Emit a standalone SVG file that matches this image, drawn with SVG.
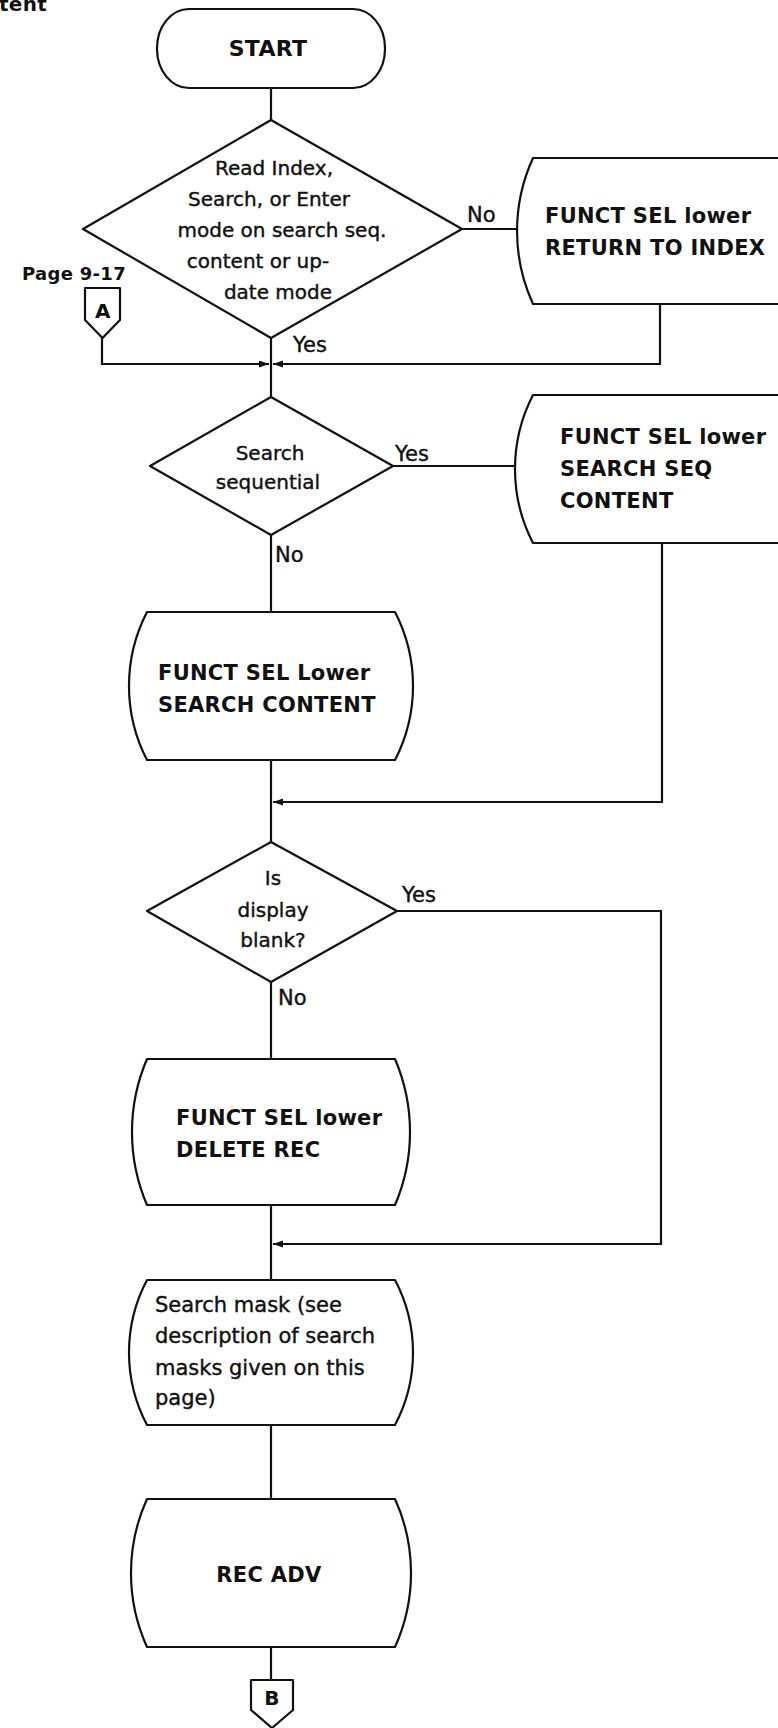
<svg xmlns="http://www.w3.org/2000/svg" width="778" height="1728" viewBox="0 0 778 1728">
<defs>
<style>
.shape{fill:#fff;stroke:#111;stroke-width:2.2;stroke-linejoin:round}
.line{fill:none;stroke:#111;stroke-width:2.2}
.t{font-family:"DejaVu Sans","Liberation Sans",sans-serif;font-size:20px;fill:#111;stroke:#111;stroke-width:0.4}
.b{font-family:"DejaVu Sans","Liberation Sans",sans-serif;font-size:21px;font-weight:bold;fill:#111;letter-spacing:0.3px}
.lbl{font-size:21px}
.m{text-anchor:middle}
</style>
<marker id="arr" markerUnits="userSpaceOnUse" markerWidth="10" markerHeight="8" refX="10" refY="3.5" orient="auto">
<path d="M0,0 L10,3.5 L0,7 z" fill="#111"/>
</marker>
</defs>
<rect width="778" height="1728" fill="#fff"/>
<text class="b" x="-1" y="11" style="font-size:20px">tent</text>

<g id="connectors">
<path class="line" d="M271,88 V120"/>
<path class="line" d="M271,338 V397"/>
<path class="line" d="M462,229 H517"/>
<path class="line" d="M660,304 V364 H273" marker-end="url(#arr)"/>
<path class="line" d="M102,338 V364 H269" marker-end="url(#arr)"/>
<path class="line" d="M393,466 H516"/>
<path class="line" d="M271,535 V612"/>
<path class="line" d="M662,543 V802 H273" marker-end="url(#arr)"/>
<path class="line" d="M271,760 V842"/>
<path class="line" d="M397,911 H661 V1244 H273" marker-end="url(#arr)"/>
<path class="line" d="M271,982 V1059"/>
<path class="line" d="M271,1205 V1280"/>
<path class="line" d="M271,1425 V1499"/>
<path class="line" d="M271,1647 V1680"/>
<text class="t lbl" x="293" y="352">Yes</text>
<text class="t lbl" x="467" y="222">No</text>
<text class="t lbl" x="395" y="461">Yes</text>
<text class="t lbl" x="275" y="562">No</text>
<text class="t lbl" x="402" y="902">Yes</text>
<text class="t lbl" x="278" y="1005">No</text>
</g>

<g id="start">
<rect class="shape" x="157" y="9" width="228" height="79" rx="32" ry="39"/>
<text class="b m" x="268" y="56" style="font-size:22px">START</text>
</g>

<g id="decision-mode">
<polygon class="shape" points="271,120 462,229 271,338 83,229"/>
<text class="t m" x="274" y="175">Read Index,</text>
<text class="t m" x="269" y="206">Search, or Enter</text>
<text class="t m" x="282" y="237">mode on search seq.</text>
<text class="t m" x="258" y="268">content or up-</text>
<text class="t m" x="278" y="299">date mode</text>
</g>

<g id="connector-a">
<text class="b" x="22" y="280" style="font-size:18px">Page 9-17</text>
<polygon class="shape" points="85,288 120,288 120,320 102.5,338 85,320"/>
<text class="b m" x="103" y="318" style="font-size:20px">A</text>
</g>

<g id="return-to-index">
<path class="shape" d="M533,158 H781 A175,175 0 0 1 781,304 H533 A175,175 0 0 1 533,158 Z"/>
<text class="b" x="545" y="223">FUNCT SEL lower</text>
<text class="b" x="545" y="255">RETURN TO INDEX</text>
</g>

<g id="decision-seq">
<polygon class="shape" points="271,397 393,466 271,535 150,466"/>
<text class="t m" x="270" y="460">Search</text>
<text class="t m" x="268" y="489">sequential</text>
</g>

<g id="search-seq-content">
<path class="shape" d="M533,395 H781 A161,161 0 0 1 781,543 H533 A161,161 0 0 1 533,395 Z"/>
<text class="b" x="560" y="444">FUNCT SEL lower</text>
<text class="b" x="560" y="476">SEARCH SEQ</text>
<text class="b" x="560" y="508">CONTENT</text>
</g>

<g id="search-content">
<path class="shape" d="M147,612 H395 A161,161 0 0 1 395,760 H147 A161,161 0 0 1 147,612 Z"/>
<text class="b" x="158" y="680">FUNCT SEL Lower</text>
<text class="b" x="158" y="712">SEARCH CONTENT</text>
</g>

<g id="decision-blank">
<polygon class="shape" points="271,842 397,911 271,982 147,911"/>
<text class="t m" x="273" y="885">Is</text>
<text class="t m" x="273" y="917">display</text>
<text class="t m" x="273" y="947">blank?</text>
</g>

<g id="delete-rec">
<path class="shape" d="M147,1059 H395 A185,185 0 0 1 395,1205 H147 A185,185 0 0 1 147,1059 Z"/>
<text class="b" x="176" y="1125">FUNCT SEL lower</text>
<text class="b" x="176" y="1157">DELETE REC</text>
</g>

<g id="search-mask">
<path class="shape" d="M147,1280 H395 A155,155 0 0 1 395,1425 H147 A155,155 0 0 1 147,1280 Z"/>
<text class="t" x="155" y="1312" style="font-size:21px">Search mask (see</text>
<text class="t" x="155" y="1343" style="font-size:21px">description of search</text>
<text class="t" x="155" y="1375" style="font-size:21px">masks given on this</text>
<text class="t" x="155" y="1405" style="font-size:21px">page)</text>
</g>

<g id="rec-adv">
<path class="shape" d="M147,1499 H395 A179,179 0 0 1 395,1647 H147 A179,179 0 0 1 147,1499 Z"/>
<text class="b m" x="269" y="1582">REC ADV</text>
</g>

<g id="connector-b">
<polygon class="shape" points="251,1680 293,1680 293,1710 272,1728 251,1710"/>
<text class="b m" x="272" y="1705" style="font-size:20px">B</text>
</g>
</svg>
